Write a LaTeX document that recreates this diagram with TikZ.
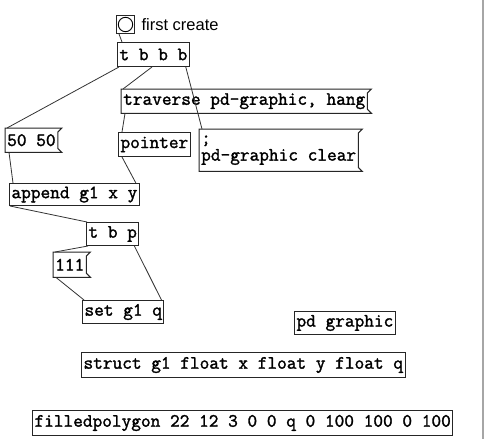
\documentclass[tikz,border=0pt]{standalone}
\usepackage{fontspec}
\usepackage{tikz}
\usetikzlibrary{positioning}
\newfontfamily\pdfont{Latin Modern Mono}[FakeBold=1.6]
\newfontfamily\pdlabelfont{Liberation Sans}

% message box outline with the flag on the right
\newcommand{\flagbox}[1]{%
  \draw[boxline] (#1.north west) -- ([xshift=4pt]#1.north east)
    -- ([yshift=-4pt]#1.north east) -- ([yshift=4pt]#1.south east)
    -- ([xshift=4pt]#1.south east) -- (#1.south west) -- cycle;}

\begin{document}
\begin{tikzpicture}[x=1pt, y=-1pt,
    boxline/.style={line width=1pt, black!85},
    wire/.style={line width=0.8pt, black!80},
    pdtext/.style={anchor=north west, inner xsep=2pt, inner ysep=0pt,
        minimum height=24pt, align=left,
        font={\pdfont\fontsize{18.8}{17}\selectfont}},
    obj/.style={pdtext, draw, line width=1pt, draw=black!85},
    msg/.style={pdtext}]
    \useasboundingbox (0,0) rectangle (488,439);
    \fill[white] (0,0) rectangle (488,439);
    % window edge
    \draw[black!35, line width=1.5pt] (483,0) -- (483,439);

    % Bang and trigger
    \node[draw, line width=1pt, draw=black!85, anchor=north west, minimum size=18pt, inner sep=0pt] (bang) at (116,15) {};
    \draw[line width=0.9pt] (bang.center) circle (7.2pt);
    \node[right=3pt of bang, font={\pdlabelfont\fontsize{16.5}{18}\selectfont}] (bangname) {first create};
    \node[obj] (tbbb) at (117,42) {t b b b};

    % Messages and traversal
    \node[msg] (traverse) at (121,89) {traverse pd-graphic, hang};
    \flagbox{traverse}
    \node[obj] (pointer) at (118,132) {pointer};
    \node[msg, minimum height=42pt] (clear) at (199,129) {;\\pd-graphic clear};
    \flagbox{clear}
    \node[msg] (fifty) at (5,128) {50 50};
    \flagbox{fifty}
    \node[obj, minimum height=22pt] (append) at (9,183) {append g1 x y};

    % Setting the field
    \node[obj, minimum height=23pt] (tbp) at (86,222) {t b p};
    \node[msg, minimum height=25pt] (oneeleven) at (53,252) {111};
    \flagbox{oneeleven}
    \node[obj, minimum height=23pt] (setq) at (82,300) {set g1 q};

    % Canvas, template and drawing
    \node[obj, minimum height=23pt] (pdgraphic) at (294,311) {pd graphic};
    \node[obj, minimum height=25pt] (struct) at (81,352) {struct g1 float x float y float q};
    \node[obj, minimum height=25pt] (polygon) at (32,410) {filledpolygon 22 12 3 0 0 q 0 100 100 0 100};

    % Connections
    \draw[wire] ([xshift=3pt]bang.south west) -- ([xshift=5pt]tbbb.north west);
    \draw[wire] ([xshift=2pt]tbbb.south west) -- ([xshift=2pt]fifty.north west);
    \draw[wire] ([xshift=35pt]tbbb.south west) -- ([xshift=2pt]traverse.north west);
    \draw[wire] ([xshift=-4pt]tbbb.south east) -- ([xshift=3pt]clear.north west);
    \draw[wire] ([xshift=4pt]traverse.south west) -- ([xshift=4pt]pointer.north west);
    \draw[wire] ([xshift=4pt]pointer.south west) -- ([xshift=-4pt]append.north east);
    \draw[wire] ([xshift=4pt]fifty.south west) -- ([xshift=4pt]append.north west);
    \draw[wire] ([xshift=1pt]append.south west) -- ([xshift=1pt]tbp.north west);
    \draw[wire] ([xshift=2pt]tbp.south west) -- ([xshift=2pt]oneeleven.north west);
    \draw[wire] ([xshift=-5pt]tbp.south east) -- ([xshift=-3pt]setq.north east);
    \draw[wire] ([xshift=3pt]oneeleven.south west) -- ([xshift=2pt]setq.north west);
\end{tikzpicture}
\end{document}
